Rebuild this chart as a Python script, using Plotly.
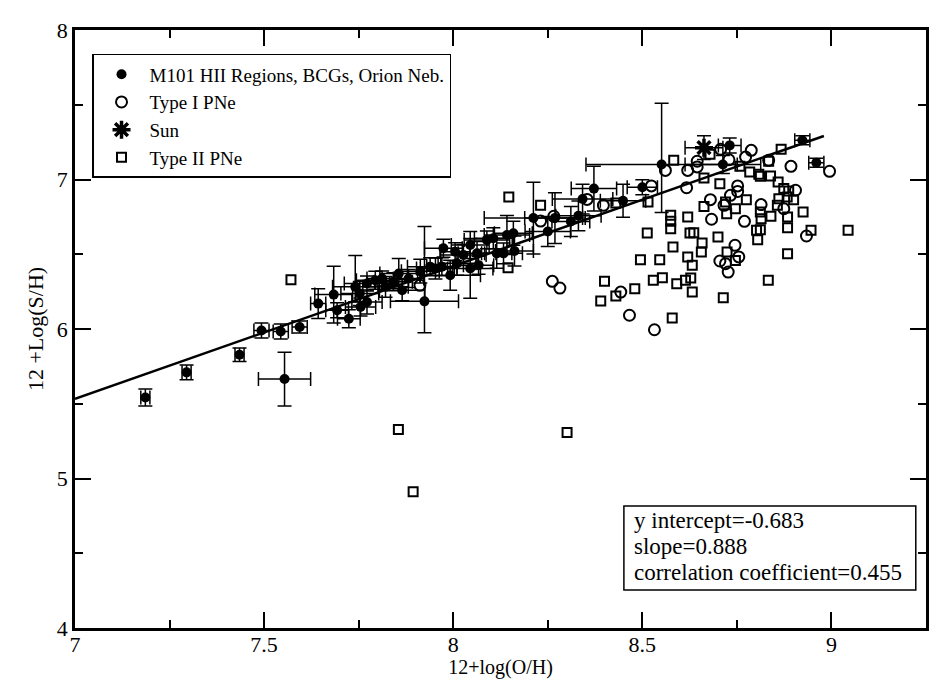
import plotly.graph_objects as go

# M101 HII regions, BCGs, Orion Neb. (with error bars)
hii_x = [7.186, 7.295, 7.435, 7.493, 7.544, 7.594, 7.554, 7.643, 7.684, 7.693,
         7.724, 7.741, 7.755, 7.753, 7.772, 7.772, 7.794, 7.812, 7.821, 7.842,
         7.856, 7.865, 7.882, 7.913, 7.924, 7.939, 7.953, 7.970, 7.974, 7.992,
         8.005, 8.010, 8.027, 8.045, 8.045, 8.063, 8.067, 8.089, 8.106, 8.115,
         8.133, 8.142, 8.159, 8.162, 8.212, 8.250, 8.269, 8.311, 8.331, 8.342,
         8.372, 8.449, 8.500, 8.551, 8.713, 8.731, 8.923, 8.960]
hii_y = [5.542, 5.710, 5.828, 5.990, 5.983, 6.013, 5.665, 6.170, 6.230, 6.125,
         6.069, 6.282, 6.147, 6.237, 6.181, 6.304, 6.326, 6.338, 6.282, 6.316,
         6.371, 6.259, 6.338, 6.387, 6.185, 6.417, 6.405, 6.417, 6.540, 6.360,
         6.517, 6.439, 6.495, 6.562, 6.405, 6.506, 6.427, 6.596, 6.607, 6.506,
         6.506, 6.629, 6.641, 6.522, 6.742, 6.652, 6.742, 6.719, 6.757, 6.869,
         6.939, 6.858, 6.948, 7.100, 7.100, 7.228, 7.262, 7.112]
hii_ex = [0.012, 0.012, 0.012, 0.02, 0.02, 0.02, 0.069, 0.02, 0.05, 0.03,
          0.03, 0.06, 0.04, 0.05, 0.04, 0.06, 0.05, 0.04, 0.06, 0.05,
          0.05, 0.06, 0.04, 0.05, 0.09, 0.06, 0.05, 0.04, 0.05, 0.08,
          0.04, 0.05, 0.06, 0.05, 0.06, 0.05, 0.04, 0.06, 0.05, 0.04,
          0.05, 0.06, 0.05, 0.05, 0.13, 0.06, 0.08, 0.05, 0.06, 0.08,
          0.06, 0.06, 0.04, 0.2, 0.1, 0.03, 0.02, 0.02]
hii_ey_up = [0.057, 0.05, 0.045, 0.05, 0.05, 0.04, 0.18, 0.1, 0.19, 0.05,
             0.06, 0.21, 0.06, 0.08, 0.08, 0.05, 0.06, 0.05, 0.07, 0.06,
             0.1, 0.07, 0.06, 0.08, 0.5, 0.06, 0.07, 0.06, 0.06, 0.1,
             0.06, 0.08, 0.07, 0.09, 0.2, 0.08, 0.06, 0.06, 0.07, 0.1,
             0.07, 0.13, 0.08, 0.1, 0.24, 0.1, 0.17, 0.1, 0.1, 0.1,
             0.15, 0.11, 0.05, 0.41, 0.06, 0.05, 0.03, 0.03]
hii_ey_dn = [0.057, 0.05, 0.045, 0.05, 0.05, 0.04, 0.18, 0.1, 0.19, 0.05,
             0.06, 0.1, 0.06, 0.08, 0.08, 0.05, 0.06, 0.05, 0.07, 0.06,
             0.1, 0.07, 0.06, 0.08, 0.21, 0.06, 0.07, 0.06, 0.06, 0.1,
             0.06, 0.08, 0.07, 0.09, 0.2, 0.08, 0.06, 0.06, 0.07, 0.1,
             0.07, 0.13, 0.08, 0.1, 0.24, 0.1, 0.17, 0.1, 0.1, 0.1,
             0.15, 0.11, 0.05, 0.32, 0.06, 0.05, 0.03, 0.03]

# Type I PNe
pn1_x = [8.707, 8.788, 8.773, 8.729, 8.645, 8.645, 8.620, 8.834, 8.893, 8.995,
         8.617, 8.752, 8.752, 8.733, 8.680, 8.905, 8.716, 8.814, 8.874, 8.683,
         8.770, 8.745, 8.705, 8.755, 8.720, 8.727, 8.934, 8.561, 8.524, 8.354,
         8.397, 8.231, 8.266, 8.262, 8.282, 8.443, 8.466, 8.532, 7.912]
pn1_y = [7.202, 7.195, 7.150, 7.132, 7.122, 7.084, 7.061, 7.128, 7.088, 7.055,
         6.945, 6.957, 6.920, 6.894, 6.865, 6.928, 6.827, 6.832, 6.805, 6.734,
         6.720, 6.560, 6.455, 6.482, 6.437, 6.381, 6.622, 7.061, 6.957, 6.867,
         6.827, 6.722, 6.754, 6.319, 6.274, 6.247, 6.092, 5.995, 6.292]

# Sun
sun_x = [8.663]
sun_y = [7.213]
sun_ex = [0.05]
sun_ey = [0.08]

# Type II PNe
pn2_x = [8.679, 8.867, 8.834, 8.758, 8.784, 8.808, 8.812, 8.839, 8.859, 8.663,
         8.705, 8.874, 8.887, 8.883, 8.900, 8.861, 8.775, 8.720, 8.746, 8.723,
         8.663, 8.857, 8.812, 8.814, 8.840, 8.884, 8.925, 8.620, 8.884, 8.802,
         8.812, 8.805, 8.946, 9.044, 8.626, 8.636, 8.700, 8.658, 8.656, 8.724,
         8.620, 8.632, 8.746, 8.884, 8.628, 8.614, 8.833, 8.632, 8.714,
         8.147, 8.231, 8.430, 8.515, 8.583, 8.575, 8.575, 8.575, 8.513, 8.581,
         8.495, 8.546, 8.400, 8.480, 8.529, 8.553, 8.591, 8.390, 8.430, 8.579,
         8.145, 7.571, 7.855, 7.894, 8.301]
pn2_y = [7.169, 7.202, 7.122, 7.088, 7.050, 7.035, 7.021, 7.023, 6.983, 7.010,
         6.972, 6.939, 6.923, 6.883, 6.865, 6.872, 6.865, 6.850, 6.805, 6.771,
         6.820, 6.827, 6.783, 6.738, 6.754, 6.749, 6.783, 6.749, 6.678, 6.660,
         6.664, 6.597, 6.660, 6.660, 6.642, 6.644, 6.615, 6.575, 6.515, 6.515,
         6.482, 6.426, 6.459, 6.504, 6.341, 6.326, 6.326, 6.247, 6.209,
         6.883, 6.827, 6.843, 6.850, 7.128, 6.761, 6.720, 6.671, 6.642, 6.548,
         6.464, 6.464, 6.319, 6.270, 6.326, 6.343, 6.303, 6.187, 6.221, 6.074,
         6.410, 6.330, 5.328, 4.911, 5.308]

# linear fit
fit_intercept = -0.683
fit_slope = 0.888
fit_x = [7.0, 8.98]
fit_y = [fit_intercept + fit_slope * v for v in fit_x]

stats_lines = ["y intercept=-0.683", "slope=0.888", "correlation coefficient=0.455"]

serif = "Liberation Serif"

fig = go.Figure()

fig.add_trace(go.Scatter(
    x=fit_x, y=fit_y, mode="lines",
    line=dict(color="black", width=2.5),
    showlegend=False, hoverinfo="skip"))

fig.add_trace(go.Scatter(
    x=hii_x, y=hii_y, mode="markers",
    name="M101 HII Regions, BCGs, Orion Neb.",
    marker=dict(symbol="circle", size=10, color="black"),
    error_x=dict(type="data", array=hii_ex, color="black", thickness=1.5, width=7),
    error_y=dict(type="data", array=hii_ey_up, arrayminus=hii_ey_dn,
                 color="black", thickness=1.5, width=7)))

fig.add_trace(go.Scatter(
    x=pn1_x, y=pn1_y, mode="markers", name="Type I PNe",
    marker=dict(symbol="circle-open", size=11, color="black",
                line=dict(width=2, color="black"))))

fig.add_trace(go.Scatter(
    x=sun_x, y=sun_y, mode="markers", name="Sun",
    marker=dict(symbol="asterisk-open", size=15, color="black",
                line=dict(width=3.5, color="black")),
    error_x=dict(type="data", array=sun_ex, color="black", thickness=1.5, width=7),
    error_y=dict(type="data", array=sun_ey, color="black", thickness=1.5, width=7)))

fig.add_trace(go.Scatter(
    x=pn2_x, y=pn2_y, mode="markers", name="Type II PNe",
    marker=dict(symbol="square-open", size=9, color="black",
                line=dict(width=2, color="black"))))

axis_common = dict(
    showline=True, linecolor="black", linewidth=2.5, mirror="ticks",
    ticks="inside", ticklen=16, tickwidth=1.5, tickcolor="black",
    showgrid=False, zeroline=False, automargin=False,
    tickfont=dict(family=serif, size=22, color="black"),
)

fig.update_xaxes(
    range=[7, 9.25], tickvals=[7, 7.5, 8, 8.5, 9],
    ticktext=["7", "7.5", "8", "8.5", "9"],
    ticklabelstandoff=-5,
    minor=dict(dtick=0.25, ticks="inside", ticklen=8, tickwidth=1.5, tickcolor="black"),
    title=dict(text="12+log(O/H)", font=dict(family=serif, size=20, color="black"), standoff=2),
    **axis_common)
fig.update_yaxes(
    range=[4, 8], tickvals=[4, 5, 6, 7, 8],
    minor=dict(dtick=0.5, ticks="inside", ticklen=8, tickwidth=1.5, tickcolor="black"),
    title=dict(text="12 +Log(S/H)", font=dict(family=serif, size=22, color="black"), standoff=8),
    **axis_common)

# stats box: frame plus one annotation per line
fig.add_shape(type="rect", xref="paper", yref="paper",
              x0=0.645, x1=0.988, y0=0.0635, y1=0.204,
              line=dict(color="black", width=1.5), fillcolor="white", layer="above")
for i, line_text in enumerate(stats_lines):
    fig.add_annotation(
        xref="paper", yref="paper", x=0.655, y=0.179 - i * 0.0435,
        xanchor="left", yanchor="middle", align="left", showarrow=False,
        text=line_text, font=dict(family=serif, size=23, color="black"))

fig.update_layout(
    width=925, height=671,
    margin=dict(l=67, r=7, t=22, b=51),
    plot_bgcolor="white", paper_bgcolor="white",
    font=dict(family=serif, color="black"),
    legend=dict(
        x=0.02, y=0.960, xanchor="left", yanchor="top",
        bordercolor="black", borderwidth=1.5, bgcolor="white",
        font=dict(family=serif, size=19, color="black"),
        itemwidth=46, tracegroupgap=0),
)

fig.write_html("out.html")
